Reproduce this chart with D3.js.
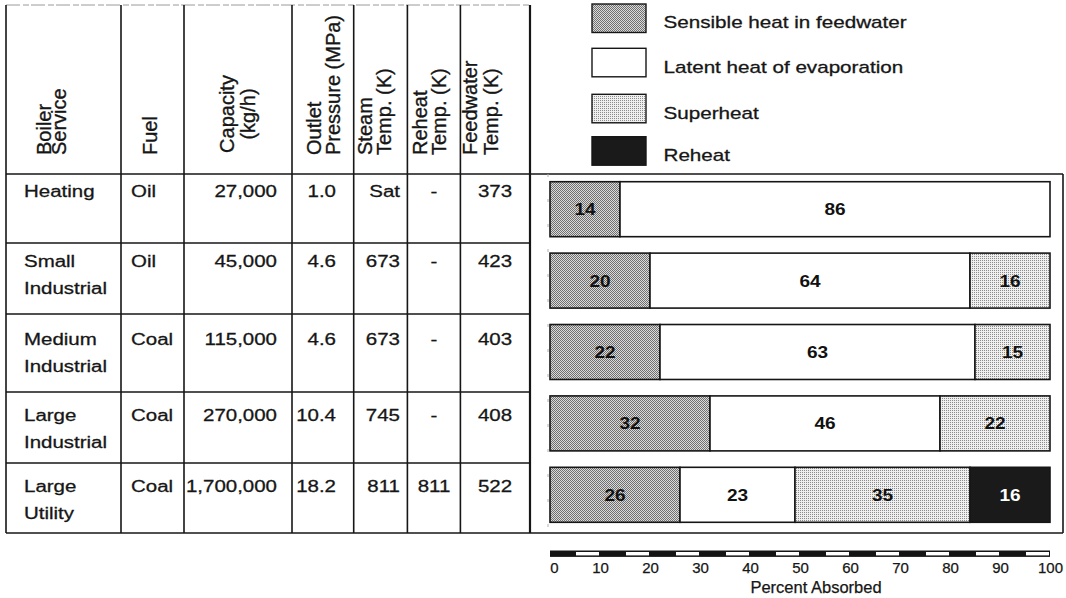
<!DOCTYPE html>
<html><head><meta charset="utf-8">
<script src="https://cdn.jsdelivr.net/npm/d3@7"></script>
<style>
html,body{margin:0;padding:0;background:#fff;}
svg{display:block;font-family:"Liberation Sans",Arial,Helvetica,sans-serif;}
</style>
</head><body>
<svg id="c" width="1066" height="598"></svg>
<script>
// ---------------- data ----------------
const categories = ["Heating","Small Industrial","Medium Industrial","Large Industrial","Large Utility"];
const serviceLines = [["Heating"],["Small","Industrial"],["Medium","Industrial"],["Large","Industrial"],["Large","Utility"]];
const fuel = ["Oil","Oil","Coal","Coal","Coal"];
const capacity = ["27,000","45,000","115,000","270,000","1,700,000"];
const pressure = ["1.0","4.6","4.6","10.4","18.2"];
const steamTemp = ["Sat","673","673","745","811"];
const reheatTemp = ["-","-","-","-","811"];
const feedwaterTemp = ["373","423","403","408","522"];
const headers = [["Boiler","Service"],["Fuel"],["Capacity","(kg/h)"],["Outlet","Pressure (MPa)"],["Steam","Temp. (K)"],["Reheat","Temp. (K)"],["Feedwater","Temp. (K)"]];

const seriesNames = ["Sensible heat in feedwater","Latent heat of evaporation","Superheat","Reheat"];
const sensible  = [14,20,22,32,26];
const latent    = [86,64,63,46,23];
const superheat = [0,16,15,22,35];
const reheat    = [0,0,0,0,16];
const tickValues = [0,10,20,30,40,50,60,70,80,90,100];
const axisTitle = "Percent Absorbed";

// ---------------- layout ----------------
const svg = d3.select("#c");
const defs = svg.append("defs");
const INK = "#161616";
const TS = 0.35; // slight stroke to mimic heavy print

function checker(id, bg, fg, twoDots){
  const p = defs.append("pattern").attr("id",id).attr("width",2).attr("height",2)
    .attr("patternUnits","userSpaceOnUse");
  p.append("rect").attr("width",2).attr("height",2).attr("fill",bg);
  p.append("rect").attr("width",1).attr("height",1).attr("fill",fg);
  if(twoDots) p.append("rect").attr("x",1).attr("y",1).attr("width",1).attr("height",1).attr("fill",fg);
}
checker("pSens","#dadada","#707070",true);
checker("pSup","#efefef","#8c8c8c",false);
const fills = ["url(#pSens)","#ffffff","url(#pSup)","#1a1a1a"];
const labelColors = ["#111","#111","#111","#fff"];

// scales
const x = d3.scaleLinear().domain([0,100]).range([550,1050]);
const y = d3.scaleBand().domain(categories).range([173.5,530.5]).paddingInner(0.23).paddingOuter(0.115);

// ---------- table ----------
const colLines = [6,121,184,292,353.7,407.4,460.4,530];
const rowLines = [174,243,314,392,463,533];
const baseLine1 = [196.5,267,345,421,492];
const lineGap = 26.5;
const tbl = svg.append("g");

tbl.append("line").attr("x1",6).attr("x2",530).attr("y1",5).attr("y2",5)
  .attr("stroke","#9a9a9a").attr("stroke-width",1).attr("stroke-dasharray","14,3,6,2");
rowLines.forEach((ry,i)=>{
  const full = (i===0 || i===rowLines.length-1);
  tbl.append("line").attr("x1",6).attr("x2",full?1063:530).attr("y1",ry).attr("y2",ry)
    .attr("stroke",INK).attr("stroke-width",1.6);
});
colLines.forEach((cx,i)=>{
  tbl.append("line").attr("x1",cx).attr("x2",cx).attr("y1",5).attr("y2",533)
    .attr("stroke",INK).attr("stroke-width", i===colLines.length-1?2.2:1.6);
});
tbl.append("line").attr("x1",1063).attr("x2",1063).attr("y1",174).attr("y2",533).attr("stroke",INK).attr("stroke-width",1.6);
tbl.append("line").attr("x1",548).attr("x2",548).attr("y1",174).attr("y2",533)
  .attr("stroke","#b0b0b0").attr("stroke-width",1).attr("stroke-dasharray","3,22");

// header (rotated)
const hdrX = [[50.5,66],[157],[234,255],[320.5,339.5],[372,391],[427,446],[477,497.5]];
headers.forEach((lines,ci)=>{
  lines.forEach((t,li)=>{
    const mid = ci===2;
    tbl.append("text")
      .attr("transform",`translate(${hdrX[ci][li]},${mid?114:155}) rotate(-90)`)
      .attr("text-anchor", mid?"middle":"start")
      .attr("font-size",20).attr("fill",INK).attr("stroke",INK).attr("stroke-width",TS).text(t);
  });
});

// body text (horizontally stretched as in the print)
const SX = 1.28;
function cell(txt, px, py, anchor){
  tbl.append("text").attr("transform",`translate(${px},${py}) scale(${SX},1)`)
    .attr("text-anchor",anchor).attr("font-size",16).attr("fill",INK)
    .attr("stroke",INK).attr("stroke-width",TS*0.8).text(txt);
}
categories.forEach((c,i)=>{
  const b = baseLine1[i];
  serviceLines[i].forEach((t,li)=>cell(t,24,b+li*lineGap,"start"));
  cell(fuel[i],131,b,"start");
  cell(capacity[i],277,b,"end");
  cell(pressure[i],336,b,"end");
  cell(steamTemp[i],400,b,"end");
  cell(reheatTemp[i],434,b,"middle");
  cell(feedwaterTemp[i],495,b,"middle");
});

// ---------- stacked bars ----------
const rows = categories.map((c,i)=>({cat:c, s0:sensible[i], s1:latent[i], s2:superheat[i], s3:reheat[i]}));
const keys = ["s0","s1","s2","s3"];
const stacked = d3.stack().keys(keys)(rows);

const bars = svg.append("g");
stacked.forEach((layer,k)=>{
  const segs = layer.filter(d=>d[1]-d[0]>0);
  bars.selectAll(null).data(segs).enter().append("rect")
    .attr("x",d=>x(d[0])).attr("y",d=>y(d.data.cat))
    .attr("width",d=>x(d[1])-x(d[0])).attr("height",y.bandwidth())
    .attr("fill",fills[k]).attr("stroke",INK).attr("stroke-width",1.6);
  bars.selectAll(null).data(segs).enter().append("text")
    .attr("transform",d=>`translate(${x((d[0]+d[1])/2)},${y(d.data.cat)+y.bandwidth()/2+6}) scale(1.12,1)`)
    .attr("text-anchor","middle").attr("font-size",17).attr("font-weight","bold")
    .attr("fill",labelColors[k]).text(d=>d[1]-d[0]);
});

// ---------- legend ----------
const legTop = [4,48.3,94.3,136.7];
const leg = svg.append("g");
seriesNames.forEach((n,i)=>{
  leg.append("rect").attr("x",592).attr("y",legTop[i]).attr("width",54).attr("height",28.5)
    .attr("fill",fills[i]).attr("stroke",INK).attr("stroke-width",1.4);
  leg.append("text").attr("transform",`translate(663.5,${legTop[i]+24.3}) scale(1.29,1)`)
    .attr("font-size",16).attr("fill",INK).attr("stroke",INK).attr("stroke-width",TS*0.8).text(n);
});

// ---------- axis (striped scale bar) ----------
const ax = svg.append("g");
ax.append("rect").attr("x",x(0)).attr("y",550.5).attr("width",x(100)-x(0)).attr("height",6.4).attr("fill","#141414");
ax.selectAll(null).data(tickValues.slice(0,-1)).enter().append("rect")
  .attr("x",d=>x(d+5)+1).attr("y",552).attr("width",d=>x(d+10)-x(d+5)-2).attr("height",3.4)
  .attr("fill","#fff");
const axisG = svg.append("g").attr("transform","translate(0,562.5)")
  .call(d3.axisBottom(x).tickValues(tickValues).tickSize(0).tickPadding(0).tickFormat(d3.format("d")));
axisG.select(".domain").remove();
axisG.selectAll("text").attr("font-size",15).attr("font-family","Liberation Sans, Arial, sans-serif")
  .attr("fill",INK).attr("stroke",INK).attr("stroke-width",0.25).attr("dx",d=>d===0?4:0);
svg.append("text").attr("x",816).attr("y",593).attr("text-anchor","middle")
  .attr("font-size",16.5).attr("fill",INK).attr("stroke",INK).attr("stroke-width",0.25).text(axisTitle);
</script>
</body></html>
